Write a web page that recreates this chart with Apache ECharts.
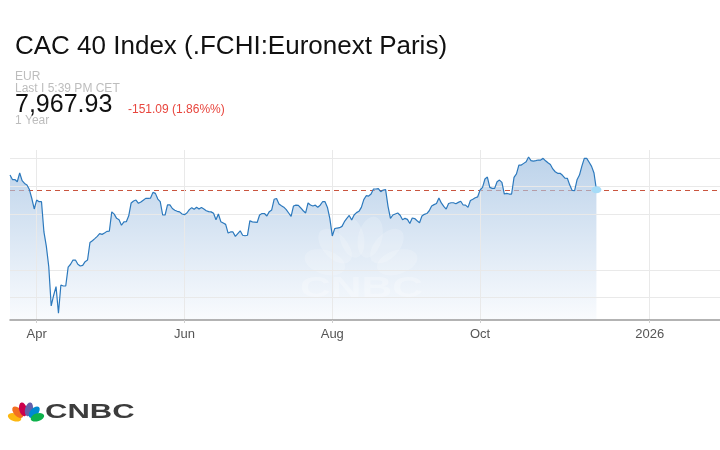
<!DOCTYPE html>
<html><head><meta charset="utf-8">
<script src="https://cdn.jsdelivr.net/npm/echarts@6/dist/echarts.min.js"></script>
<style>html,body{margin:0;padding:0;background:#fff}#c{width:720px;height:450px}</style>
</head><body><div id="c"></div>
<script>
// ---- data ----
const startDate = '2025-03-21';   // first calendar day on the axis
const axisDays = 294;             // calendar days spanned by the x axis
const closeValues = [
  8101, 8060, 8060, 8040, 8119, 8050, 8025, 8011, 7970, 7890,
  7796, 7876, 7861, 7861, 7590, 7460, 7278, 6926, 7020, 7099,
  6860, 7114, 7105, 7105, 7275, 7300, 7338, 7338, 7300, 7284,
  7290, 7323, 7338, 7495, 7511, 7530, 7550, 7575, 7568, 7580,
  7595, 7598, 7770, 7750, 7712, 7700, 7650, 7680, 7682, 7735,
  7850, 7868, 7876, 7847, 7858, 7875, 7891, 7891, 7894, 7945,
  7936, 7885, 7862, 7742, 7742, 7832, 7832, 7800, 7785, 7775,
  7770, 7751, 7745, 7760, 7790, 7808, 7793, 7811, 7795, 7810,
  7795, 7780, 7772, 7770, 7757, 7700, 7751, 7682, 7670, 7658,
  7580, 7590, 7590, 7550, 7575, 7600, 7560, 7556, 7560, 7691,
  7680, 7678, 7675, 7742, 7755, 7755, 7733, 7772, 7787, 7883,
  7890, 7840, 7825, 7812, 7790, 7760, 7730, 7823, 7830, 7828,
  7805, 7780, 7760, 7850, 7832, 7823, 7830, 7812, 7830, 7861,
  7861, 7810, 7710, 7554, 7620, 7625, 7628, 7640, 7682, 7712,
  7738, 7697, 7742, 7763, 7775, 7810, 7880, 7915, 7912, 7930,
  7975, 7975, 7978, 7951, 7966, 7970, 7820, 7712, 7742, 7751,
  7760, 7740, 7700, 7712, 7703, 7665, 7715, 7710, 7690, 7673,
  7733, 7748, 7755, 7780, 7823, 7835, 7845, 7895, 7850, 7820,
  7795, 7845, 7852, 7852, 7843, 7855, 7865, 7832, 7830, 7810,
  7872, 7883, 7897, 7905, 7966, 7990, 8065, 8082, 7990, 7981,
  7981, 8040, 8055, 8035, 7930, 7936, 7930, 7930, 8080, 8110,
  8190, 8190, 8205, 8220, 8262, 8230, 8225, 8229, 8235, 8235,
  8250, 8228, 8210, 8195, 8155, 8130, 8116, 8116, 8098, 8072,
  8071, 8010, 7962, 7960, 8058, 8100, 8180, 8250, 8250, 8215,
  8178, 8119, 7967.93
];
const tickDates  = ['2025-04-01', '2025-06-01', '2025-08-01', '2025-10-01', '2025-12-10'];
const tickLabels = ['Apr', 'Jun', 'Aug', 'Oct', '2026'];
const gridValues = [7000, 7250, 7750, 8000, 8250];
const lastClose = 7967.93;
const titleText = 'CAC 40 Index (.FCHI:Euronext Paris)';
const currencyText = 'EUR';
const lastText = 'Last I 5:39 PM CET';
const priceText = '7,967.93';
const changeText = '-151.09 (1.86%%)';
const rangeText = '1 Year';

// ---- build ----
const categories = [];
const t0 = Date.parse(startDate + 'T00:00:00Z');
for (let i = 0; i < axisDays; i++) categories.push(new Date(t0 + i * 86400000).toISOString().slice(0, 10));
const tickMap = {};
tickDates.forEach((d, k) => { tickMap[d] = tickLabels[k]; });
const isTick = (idx) => Object.prototype.hasOwnProperty.call(tickMap, categories[idx]);
const lastIdx = closeValues.length - 1;

const FONT = '"Liberation Sans", Arial, Helvetica, sans-serif';

function feathers(px, py, dist, rx, ry, colors, opacity, z, stroke) {
  const angles = [-72, -43, -14, 14, 43, 72];
  return angles.map((a, k) => {
    const r = a * Math.PI / 180;
    return {
      type: 'circle', z: z, silent: true,
      x: px + dist * Math.sin(r), y: py - dist * Math.cos(r),
      scaleX: rx, scaleY: ry, rotation: -r,
      shape: { cx: 0, cy: 0, r: 1 },
      style: { fill: colors[k], opacity: opacity }
    };
  });
}
const logoColors = ['#fcb711', '#f37021', '#cc004c', '#6460aa', '#0089d0', '#0db14b'];
const wmColors = ['#fff', '#fff', '#fff', '#fff', '#fff', '#fff'];

const chart = echarts.init(document.getElementById('c'), null, { renderer: 'canvas' });
chart.setOption({
  animation: false,
  backgroundColor: '#ffffff',
  grid: { left: 10, right: 0, top: 150, height: 170, containLabel: false },
  xAxis: {
    type: 'category', data: categories, boundaryGap: false, z: 6,
    axisLine: { show: true, lineStyle: { color: '#9a9a9a', width: 1.5 } },
    axisTick: { show: true, interval: isTick, length: 3, lineStyle: { color: '#cfcfcf' } },
    axisLabel: {
      show: true, interval: isTick,
      formatter: (v) => tickMap[v] || '', color: '#555555', fontSize: 13,
      fontFamily: FONT, margin: 8
    },
    splitLine: { show: false }
  },
  yAxis: {
    type: 'value', min: 6800, max: 8325, show: false,
    splitLine: { show: false }
  },
  series: [
    {
      name: 'area', type: 'line', data: closeValues, z: 2,
      showSymbol: false, silent: true,
      lineStyle: { width: 0, opacity: 0 },
      areaStyle: {
        color: { type: 'linear', x: 0, y: 0, x2: 0, y2: 1, colorStops: [
          { offset: 0, color: 'rgba(150,185,222,0.9)' },
          { offset: 1, color: 'rgba(246,249,253,0.9)' }
        ] }
      },
      markLine: {
        z: 1, silent: true, symbol: ['none', 'none'], label: { show: false },
        lineStyle: { color: '#c9553f', type: [5, 4], width: 1 },
        data: [{ yAxis: lastClose }]
      }
    },
    {
      name: 'grid', type: 'line', data: [], z: 3, silent: true,
      markLine: {
        z: 3, silent: true, symbol: ['none', 'none'], label: { show: false },
        lineStyle: { color: '#e9e9e9', type: 'solid', width: 1 },
        data: gridValues.map(v => ({ yAxis: v })).concat(tickDates.map(d => ({ xAxis: d })))
      }
    },
    {
      name: 'CAC 40', type: 'line', data: closeValues, z: 4,
      showSymbol: false, silent: true,
      lineStyle: { color: '#2c79bd', width: 1.2 },
      markPoint: {
        z: 5, silent: true, symbol: 'circle', symbolSize: [10, 7],
        itemStyle: { color: '#a6dcf8' }, label: { show: false },
        data: [{ coord: [categories[lastIdx], lastClose] }]
      }
    }
  ],
  graphic: [
    { type: 'text', x: 15, y: 47, silent: true,
      style: { text: titleText, font: '26px ' + FONT, fill: '#111', verticalAlign: 'middle' } },
    { type: 'text', x: 15, y: 77, silent: true,
      style: { text: currencyText, font: '12px ' + FONT, fill: '#bdbdbd', verticalAlign: 'middle' } },
    { type: 'text', x: 15, y: 89, silent: true,
      style: { text: lastText, font: '12px ' + FONT, fill: '#bdbdbd', verticalAlign: 'middle' } },
    { type: 'text', x: 15, y: 121, silent: true,
      style: { text: rangeText, font: '12px ' + FONT, fill: '#bdbdbd', verticalAlign: 'middle' } },
    { type: 'text', x: 15, y: 105.5, silent: true,
      style: { text: priceText, font: '25px ' + FONT, fill: '#111', verticalAlign: 'middle' } },
    { type: 'text', x: 128, y: 110, silent: true,
      style: { text: changeText, font: '12px ' + FONT, fill: '#e8463e', verticalAlign: 'middle' } }
  ]
  .concat(feathers(361, 274, 38, 12, 21, wmColors, 0.18, 3))
  .concat([
    { type: 'text', x: 300, y: 289, z: 3, silent: true, scaleX: 1.42,
      style: { text: 'CNBC', font: 'bold 30px ' + FONT, fill: '#ffffff', opacity: 0.25, verticalAlign: 'middle' } }
  ])
  .concat(feathers(26, 421, 12, 3.9, 7, logoColors, 1, 1))
  .concat([
    { type: 'text', x: 45, y: 412.3, silent: true, scaleX: 1.55,
      style: { text: 'CNBC', font: 'bold 20px ' + FONT, fill: '#3c3c3c', verticalAlign: 'middle' } }
  ])
});
</script>
</body></html>
